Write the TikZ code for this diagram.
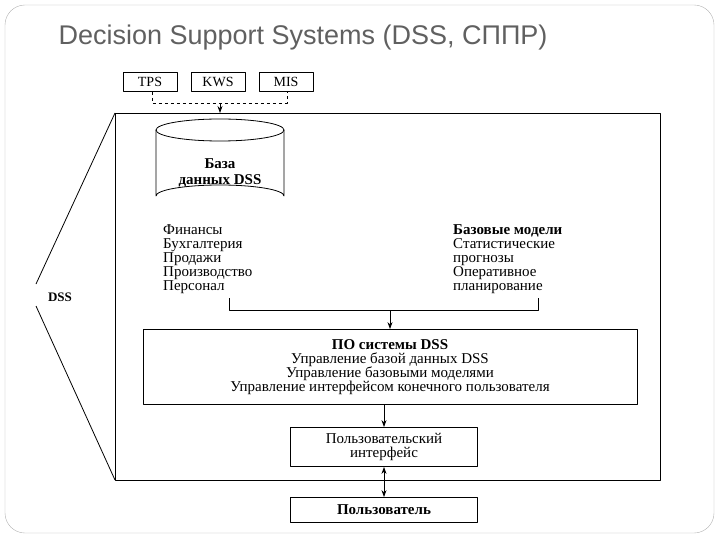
\documentclass[tikz,border=0pt]{standalone}
\usepackage{fontspec}
\setmainfont{Liberation Serif}
\newfontfamily\titlefont{Liberation Sans}
\usetikzlibrary{positioning,arrows.meta}
\begin{document}
\begin{tikzpicture}[x=1pt,y=-1pt,
    box/.style={draw,thick,inner sep=0pt,align=center,font=\fontsize{15}{14}\selectfont},
    src/.style={draw,thick,minimum width=54pt,minimum height=19pt,inner sep=0pt,font=\fontsize{14}{14}\selectfont},
    lst/.style={align=left,anchor=north west,inner sep=0pt,font=\fontsize{15}{14}\selectfont},
    arr/.style={-{Stealth[length=7pt,width=5pt]},thick},
    line join=round]
  \useasboundingbox (0,0) rectangle (720,540);
  \draw[gray!60,rounded corners=20pt] (5,5) rectangle (714,533);
  \node[anchor=west,font=\titlefont\fontsize{27}{30}\selectfont,text=gray!75!black] (title) at (55,38) {Decision Support Systems (DSS, СППР)};

  \node[src] (tps) at (150,82) {TPS};
  \node[src] (kws) at (218,82) {KWS};
  \node[src] (mis) at (286,82) {MIS};
  \coordinate (dl) at (152,103);
  \coordinate (dr) at (287,103);
  \draw[dashed,thick] (tps.south -| dl) -- (dl) -- (dr) -- (mis.south -| dr);

  \draw[thick] (115,113) rectangle (660,480);
  \coordinate (tl) at (115,113);
  \coordinate (bl) at (115,480);
  \node[font=\bfseries\fontsize{13}{13}\selectfont] (dss) at (60,297) {DSS};
  \draw[thick] (tl) -- (36,284);
  \draw[thick] (bl) -- (36,306);
  \draw[arr] (220,103) -- (220,113);

  % database cylinder
  \draw[thick] (220,130) ellipse [x radius=64, y radius=11];
  \draw[thick] (156,130) -- (156,196) arc[start angle=180,end angle=360,x radius=64,y radius=11] -- (284,130);
  \node[align=center,font=\bfseries\fontsize{15}{16}\selectfont] (db) at (220,173) {База\\данных DSS};

  \node[lst] (fin) at (163,224) {Финансы\\Бухгалтерия\\Продажи\\Производство\\Персонал};
  \node[lst] (mod) at (453,224) {\textbf{Базовые модели}\\Статистические\\прогнозы\\Оперативное\\планирование};

  \node[box,minimum width=494pt,minimum height=75pt] (po) at (390,367)
    {\textbf{ПО системы DSS}\\Управление базой данных DSS\\Управление базовыми моделями\\Управление интерфейсом конечного пользователя};
  \coordinate (jl) at (229,310);
  \coordinate (jr) at (538,310);
  \draw[thick] (229,298) -- (jl) -- (jr) -- (538,298);
  \draw[arr] (po.north |- jl) -- (po.north);

  \node[box,minimum width=187pt,minimum height=39pt] (ui) at (384,447) {Пользовательский\\интерфейс};
  \draw[arr] (po.south -| ui) -- (ui.north);

  \node[box,minimum width=187pt,minimum height=25pt,font=\bfseries\fontsize{15}{14}\selectfont] (user) at (384,510) {Пользователь};
  \draw[arr,{Stealth[length=7pt,width=5pt]}-{Stealth[length=7pt,width=5pt]}] (ui) -- (user);
\end{tikzpicture}
\end{document}
